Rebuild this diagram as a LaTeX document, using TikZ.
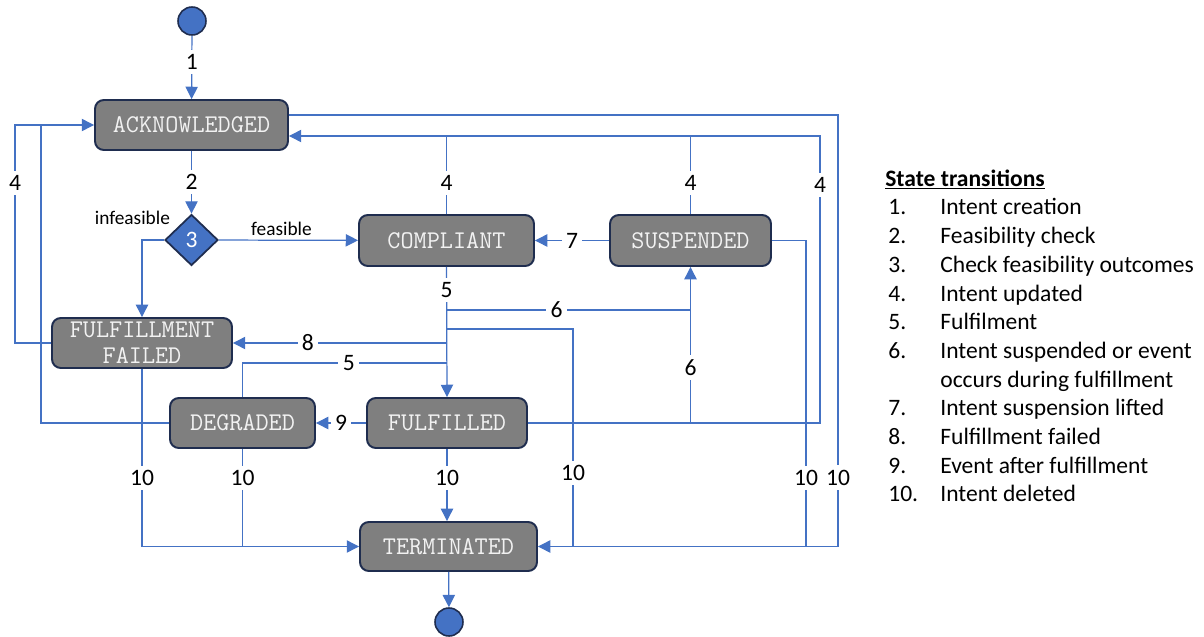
\documentclass[tikz,border=0pt]{standalone}
\usepackage{fontspec}
\setmainfont{Carlito}
\usetikzlibrary{shapes.geometric,arrows.meta}
\definecolor{lineblue}{HTML}{4472C4}
\definecolor{boxgray}{HTML}{7F7F7F}
\definecolor{boxedge}{HTML}{1F2D4F}
\definecolor{boxtext}{HTML}{F2F2F2}
\begin{document}
\begin{tikzpicture}[x=0.02cm,y=-0.02cm,
 state/.style={rectangle, rounded corners=5pt, fill=boxgray, draw=boxedge, line width=1.1pt, text=boxtext, font=\ttfamily\fontsize{14.5}{14.7}\selectfont, align=center, inner sep=0pt},
 conn/.style={draw=lineblue, line width=0.7pt},
 arr/.style={-{Triangle[length=7pt,width=7pt]}},
 lab/.style={fill=white, inner sep=2.5pt, font=\fontsize{13.4}{16}\selectfont},
 small/.style={font=\fontsize{11}{13}\selectfont, inner sep=1pt},
 dot/.style={circle, fill=lineblue, draw=boxedge, line width=0.9pt, minimum size=0.56cm, inner sep=0pt},
 leg/.style={anchor=base west, inner sep=0pt, font=\fontsize{13.4}{16}\selectfont}]
\useasboundingbox (0,0) rectangle (1204,636);

% states
\node[dot] (init) at (192,21) {};
\node[state, minimum width=3.86cm, minimum height=1.0cm] (ack) at (191.5,125) {ACKNOWLEDGED};
\node[diamond, fill=lineblue, draw=boxedge, line width=1pt, minimum width=1.06cm, minimum height=1.02cm, inner sep=0pt, text=white, font=\fontsize{13.4}{16}\selectfont] (dia) at (191.5,240) {3};
\node[state, minimum width=3.5cm, minimum height=1.02cm] (compliant) at (446.5,240.5) {COMPLIANT};
\node[state, minimum width=3.22cm, minimum height=1.02cm] (suspended) at (690.5,240.5) {SUSPENDED};
\node[state, minimum width=3.6cm, minimum height=1.0cm] (ffailed) at (142,343) {FULFILLMENT\\FAILED};
\node[state, minimum width=2.9cm, minimum height=1.0cm] (degraded) at (242.5,423) {DEGRADED};
\node[state, minimum width=3.2cm, minimum height=1.0cm] (fulfilled) at (447,423) {FULFILLED};
\node[state, minimum width=3.54cm, minimum height=0.98cm] (terminated) at (448.5,546.5) {TERMINATED};
\node[dot] (final) at (449,622) {};

% bend / junction coordinates
\coordinate (t115) at (838,115);
\coordinate (t136) at (820,136);
\coordinate (l4) at (15,125);
\coordinate (l41) at (41,125);
\coordinate (s10b) at (806,547);
\coordinate (j6) at (447,310);
\coordinate (j10) at (447,329);
\coordinate (j8) at (447,343);
\coordinate (j5) at (447,363);
\coordinate (x573) at (573,547);

% connectors
\draw[conn,arr] (init) -- node[lab,pos=0.42]{1} (ack);
\draw[conn,arr] (ack) -- node[lab]{2} (dia);
\draw[conn,arr] (dia) -- node[small,above=1pt,pos=0.45]{feasible} (compliant);
\draw[conn,arr] (dia.west) -| (ffailed.north);
\node[small, anchor=south east] (infl) at (172,227) {infeasible};

\draw[conn,arr] (ffailed.west) -| node[lab,pos=0.867]{4} (l4) -- (ack.west);
\draw[conn] (degraded.west) -| (l41);
\draw[conn] (compliant.north) -- node[lab,pos=0.4]{4} (compliant.north |- t136);
\draw[conn] (suspended.north) -- node[lab,pos=0.4]{4} (suspended.north |- t136);
\draw[conn,arr] (fulfilled.east) -| node[lab,pos=0.915]{4} (t136) -- (ack.east |- t136);

\draw[conn,arr] (ack.east |- t115) -- (t115) -- node[lab,pos=0.84]{10} (t115 |- terminated.east) -- (terminated.east);
\draw[conn] (suspended.east) -| node[lab,pos=0.887]{10} (s10b);

\draw[conn,arr] (suspended.west) -- node[lab]{7} (compliant.east);
\draw[conn,arr] (compliant.south) -- node[lab,pos=0.18]{5} (fulfilled.north);
\draw[conn,arr] (j6) -| node[lab,pos=0.225]{6} (suspended.south);
\draw[conn] (fulfilled.east) -| node[lab,pos=0.745]{6} (j6 -| suspended.south);
\draw[conn] (j10) -| node[lab,pos=0.83]{10} (x573);
\draw[conn,arr] (j8) -- node[lab,pos=0.65]{8} (ffailed.east);
\draw[conn] (degraded.north) |- node[lab,pos=0.76]{5} (j5);
\draw[conn,arr] (fulfilled.west) -- node[lab]{9} (degraded.east);

\draw[conn,arr] (ffailed.south) |- node[lab,pos=0.307]{10} (terminated.west);
\draw[conn] (degraded.south) -- node[lab,pos=0.3]{10} (degraded.south |- terminated.west);
\draw[conn,arr] (fulfilled.south) -- node[lab,pos=0.4]{10} (fulfilled.south |- terminated.north);
\draw[conn,arr] (terminated) -- (final);

% legend
\node[leg, font=\bfseries\fontsize{13.4}{16}\selectfont] (ltitle) at (885,186) {\underline{State transitions}};
\foreach \n/\t/\y [count=\k] in {1./Intent creation/214, 2./Feasibility check/243, 3./Check feasibility outcomes/272, 4./Intent updated/301, 5./Fulfilment/329, 6./Intent suspended or event/358, 7./Intent suspension lifted/415, 8./Fulfillment failed/444, 9./Event after fulfillment/473, 10./Intent deleted/501}{
  \node[leg] (lnum\k) at (888,\y) {\n};
  \node[leg] (ltxt\k) at (940,\y) {\t};
}
\node[leg] (ltxt6b) at (940,387) {occurs during fulfillment};
\end{tikzpicture}
\end{document}
